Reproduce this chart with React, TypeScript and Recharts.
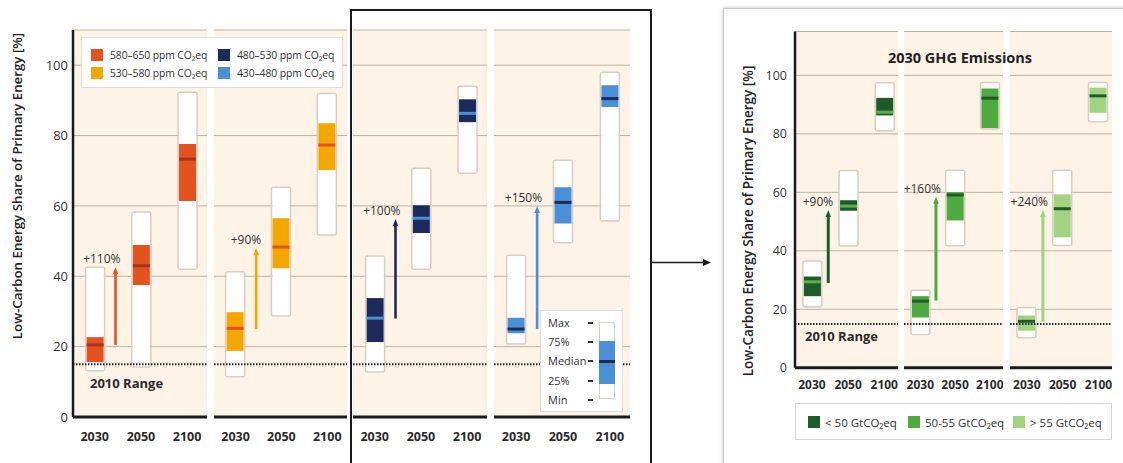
import React from 'react';
import { ComposedChart, Bar, XAxis, YAxis, CartesianGrid, ReferenceLine, ReferenceDot } from 'recharts';

// ---------------- data ----------------
const YEARS = ['2030', '2050', '2100'];
const YEAR_POS = [0.5, 1.5, 2.5];
const Y_TICKS = [0, 20, 40, 60, 80, 100];
const RANGE_2010 = 15;
const ARROW_POS = 0.95;

// Left figure: concentration categories (one row per panel, one value per year)
const CONC_NAMES = ['580–650 ppm CO₂eq', '530–580 ppm CO₂eq', '480–530 ppm CO₂eq', '430–480 ppm CO₂eq'];
const CONC_MIN = [[13.4, 14.5, 42.3], [11.7, 29, 52], [13.1, 42.3, 69.6], [21, 49.8, 56]];
const CONC_Q1 = [[15.6, 37.5, 61.4], [18.8, 42.3, 70.2], [21.3, 52.3, 83.8], [23.8, 55, 88.1]];
const CONC_MEDIAN = [[20.5, 43, 73.3], [25.2, 48.3, 77.3], [28.1, 56.5, 86.3], [25, 61, 90.5]];
const CONC_Q3 = [[22.7, 48.9, 77.6], [29.8, 56.5, 83.5], [33.8, 60.2, 90.3], [28.2, 65.3, 94.3]];
const CONC_MAX = [[42.3, 58, 92], [41, 65, 91.7], [45.5, 70.4, 93.7], [45.7, 72.7, 97.7]];
const CONC_ARROW_FROM = [20.5, 25, 28, 25];
const CONC_ARROW_TO = [42.6, 48, 56.3, 60];
const CONC_ARROW_LABEL = ['+110%', '+90%', '+100%', '+150%'];

// Right figure: 2030 GHG emission categories
const GHG_NAMES = ['< 50 GtCO₂eq', '50-55 GtCO₂eq', '> 55 GtCO₂eq'];
const GHG_MIN = [[21.2, 42, 81.4], [11.7, 42.1, 82], [10.6, 42.2, 84.5]];
const GHG_Q1 = [[24.5, 53.7, 86.3], [17.2, 50.4, 82], [12.7, 44.6, 87.2]];
const GHG_MEDIAN = [[29.4, 55.3, 87.4], [22.8, 59.1, 92.2], [15.9, 54.4, 93]];
const GHG_Q3 = [[31.2, 57.3, 92.3], [24.5, 60.1, 95.5], [17.9, 59.3, 95.8]];
const GHG_MAX = [[36.2, 67.1, 97.1], [26.2, 67.2, 97.2], [20.3, 67.2, 97.2]];
const GHG_ARROW_FROM = [29, 23, 15.7];
const GHG_ARROW_TO = [54, 58.5, 54];
const GHG_ARROW_LABEL = ['+90%', '+160%', '+240%'];

const Y_LABEL = 'Low-Carbon Energy Share of Primary Energy [%]';
const RANGE_LABEL = '2010 Range';
const RIGHT_TITLE = '2030 GHG Emissions';
const BOX_LEGEND = ['Max', '75%', 'Median', '25%', 'Min'];

// ---------------- styles ----------------
const FONT = "'Open Sans', 'Noto Sans', sans-serif";
const BEIGE = '#fdf3e6';
const GRID = '#bcb3a7';
const CONC_FILL = ['#e2531f', '#f4a700', '#1c2b5b', '#4b8fd6'];
const CONC_MED = ['#a8321a', '#e2531f', '#4b8fd6', '#1c2b5b'];
const GHG_FILL = ['#1f5b2a', '#4ea93f', '#a0d47f'];
const GHG_MED = ['#5cb04a', '#1f5b2a', '#1f5b2a'];

const LEFT_PANELS = [
  { left: 0, yAxisW: 73, plotW: 134 },
  { left: 214, yAxisW: 0, plotW: 133 },
  { left: 353, yAxisW: 0, plotW: 134 },
  { left: 494, yAxisW: 0, plotW: 136 },
];
const RIGHT_PANELS = [
  { left: 735, yAxisW: 60, plotW: 103 },
  { left: 904, yAxisW: 0, plotW: 99 },
  { left: 1010, yAxisW: 0, plotW: 102 },
];

type Geom = {
  top: number; plotH: number; axisH: number; yMax: number; xDomain: [number, number];
  xTickMargin: number; yTickMargin: number; yTickFont: number; xTickFont: number;
  labelX: number; labelCY: number; labelFont: number; barSize: number; arrowW: number;
  rangeDX: number; rangeDY: number;
};

const LEFT_GEOM: Geom = {
  top: 30, plotH: 387, axisH: 46, yMax: 110, xDomain: [0.03, 2.93],
  xTickMargin: 15, yTickMargin: 5, yTickFont: 13, xTickFont: 12.5,
  labelX: 17, labelCY: 186, labelFont: 13.3, barSize: 17, arrowW: 2.6, rangeDX: 17, rangeDY: 19,
};
const RIGHT_GEOM: Geom = {
  top: 31.5, plotH: 336.3, axisH: 40, yMax: 115, xDomain: [0.03, 2.88],
  xTickMargin: 13, yTickMargin: 8, yTickFont: 12.5, xTickFont: 12,
  labelX: 13, labelCY: 221, labelFont: 13.5, barSize: 17, arrowW: 3, rangeDX: 10, rangeDY: 12,
};

type Row = { pos: number; year: string; min: number; q1: number; median: number; q3: number; max: number };

function buildRows(mins: number[], q1: number[], med: number[], q3: number[], max: number[]): Row[] {
  return YEARS.map((year, i) => ({ pos: YEAR_POS[i], year, min: mins[i], q1: q1[i], median: med[i], q3: q3[i], max: max[i] }));
}

const makeBoxShape = (fill: string, medColor: string) => (props: any) => {
  const { x, y, width, height, payload } = props;
  if (x == null || y == null || !payload) return <g />;
  const top = Math.min(y, y + height);
  const h = Math.abs(height);
  const { min, q1, median, q3, max } = payload as Row;
  const k = h / (max - min);
  const py = (v: number) => top + (max - v) * k;
  return (
    <g>
      <rect x={x - 1} y={top - 1} width={width + 2} height={h + 2} rx={2} fill="none" stroke="#d6cfc4" strokeWidth={1.5} />
      <rect x={x} y={top} width={width} height={h} fill="#ffffff" />
      <rect x={x} y={py(q3)} width={width} height={py(q1) - py(q3)} fill={fill} />
      <rect x={x} y={py(median) - 1.5} width={width} height={3} fill={medColor} />
    </g>
  );
};

const makeArrowHead = (color: string, label: string) => (p: any) => {
  const { cx, cy } = p;
  if (cx == null || cy == null) return <g />;
  return (
    <g>
      <polygon points={`${cx},${cy} ${cx - 2.8},${cy + 7} ${cx + 2.8},${cy + 7}`} fill={color} />
      <text x={cx + 5} y={cy - 4} textAnchor="end" fontSize={12} fill="#333" fontFamily={FONT}>{label}</text>
    </g>
  );
};

type PanelProps = {
  layout: { left: number; yAxisW: number; plotW: number };
  geom: Geom; rows: Row[]; fill: string; medColor: string;
  arrowFrom: number; arrowTo: number; arrowLabel: string; showRange: boolean;
};

function Panel({ layout, geom, rows, fill, medColor, arrowFrom, arrowTo, arrowLabel, showRange }: PanelProps) {
  const showY = layout.yAxisW > 0;
  const width = layout.yAxisW + layout.plotW;
  const height = geom.top + geom.plotH + geom.axisH;
  const yLabelContent = (lp: any) => {
    const vb = lp.viewBox || { x: 0 };
    const cx = vb.x + geom.labelX;
    const cy = geom.labelCY;
    return (
      <text x={cx} y={cy} transform={`rotate(-90 ${cx} ${cy})`} textAnchor="middle" dominantBaseline="central"
        fontSize={geom.labelFont} fontWeight={600} fill="#222" fontFamily={FONT}>{Y_LABEL}</text>
    );
  };
  const rangeContent = (lp: any) => {
    const vb = lp.viewBox || { x: 0, y: 0 };
    return (
      <text x={vb.x + geom.rangeDX} y={vb.y + geom.rangeDY} dominantBaseline="central" fontSize={13} fontWeight={700}
        fill="#2a2a2a" fontFamily={FONT}>{RANGE_LABEL}</text>
    );
  };
  return (
    <div style={{ position: 'absolute', left: layout.left, top: 0 }}>
      <ComposedChart width={width} height={height} data={rows} margin={{ top: geom.top, right: 0, bottom: 0, left: 0 }}>
        <CartesianGrid vertical={false} fill={BEIGE} fillOpacity={1} stroke={GRID} strokeWidth={1} />
        <XAxis type="number" dataKey="pos" domain={geom.xDomain} ticks={YEAR_POS} allowDataOverflow
          tickFormatter={(v: number) => YEARS[Math.floor(v)]} height={geom.axisH}
          axisLine={{ stroke: '#1a1a1a', strokeWidth: 3 }} tickLine={false} tickSize={0} tickMargin={geom.xTickMargin}
          tick={{ fill: '#2a2a2a', fontSize: geom.xTickFont, fontWeight: 700, fontFamily: FONT }} />
        <YAxis type="number" domain={[0, geom.yMax]} ticks={Y_TICKS} allowDataOverflow hide={!showY}
          width={showY ? layout.yAxisW : 0}
          axisLine={{ stroke: '#1a1a1a', strokeWidth: 2.5 }} tickLine={false} tickSize={0} tickMargin={geom.yTickMargin}
          tick={{ fill: '#333', fontSize: geom.yTickFont, fontFamily: FONT }}
          label={showY ? { content: yLabelContent } : undefined} />
        <ReferenceLine y={RANGE_2010} stroke="#222" strokeWidth={2} strokeDasharray="1.5 1.5"
          label={showRange ? { content: rangeContent } : undefined} />
        <Bar dataKey={(d: Row) => [d.min, d.max]} barSize={geom.barSize} shape={makeBoxShape(fill, medColor)} isAnimationActive={false} />
        <ReferenceLine segment={[{ x: ARROW_POS, y: arrowFrom }, { x: ARROW_POS, y: arrowTo - 1.5 }]} stroke={fill} strokeWidth={geom.arrowW} />
        <ReferenceDot x={ARROW_POS} y={arrowTo} shape={makeArrowHead(fill, arrowLabel)} />
      </ComposedChart>
    </div>
  );
}

function ConcLegend() {
  return (
    <div style={{ position: 'absolute', left: 81, top: 37, width: 262, height: 51, background: '#fff', border: '1px solid #e2ddd5', boxSizing: 'border-box', fontFamily: FONT }}>
      {CONC_NAMES.map((name, i) => {
        const col = Math.floor(i / 2);
        const row = i % 2;
        return (
          <div key={name} style={{ position: 'absolute', left: 9 + col * 127, top: 9 + row * 18, height: 16, display: 'flex', alignItems: 'center' }}>
            <span style={{ width: 12, height: 12, background: CONC_FILL[i], display: 'inline-block', marginRight: 7 }} />
            <span style={{ fontSize: 10.4, letterSpacing: -0.1, color: '#333', whiteSpace: 'nowrap' }}>{name}</span>
          </div>
        );
      })}
    </div>
  );
}

function BoxLegend() {
  const centers = [12, 31, 50, 70, 89];
  return (
    <div style={{ position: 'absolute', left: 540, top: 310, width: 83, height: 102, background: '#fff', border: '1px solid #e2ddd5', boxSizing: 'border-box', fontFamily: FONT }}>
      {BOX_LEGEND.map((l, i) => (
        <React.Fragment key={l}>
          <div style={{ position: 'absolute', left: 7, top: centers[i] - 8, height: 16, lineHeight: '16px', fontSize: 11, color: '#333' }}>{l}</div>
          <div style={{ position: 'absolute', left: 47, top: centers[i] - 1, width: 5, height: 1.5, background: '#333' }} />
        </React.Fragment>
      ))}
      <div style={{ position: 'absolute', left: 58, top: 11, width: 16, height: 77, background: '#fff', border: '1px solid #d6cfc4', boxSizing: 'border-box' }} />
      <div style={{ position: 'absolute', left: 58, top: 30, width: 16, height: 43, background: CONC_FILL[3] }} />
      <div style={{ position: 'absolute', left: 58, top: 49, width: 16, height: 3, background: CONC_MED[3] }} />
    </div>
  );
}

function GhgLegend() {
  const lefts = [12, 112, 217];
  return (
    <div style={{ position: 'absolute', left: 795, top: 403, width: 317, height: 37, background: '#fff', border: '1px solid #d4d4d4', boxSizing: 'border-box', fontFamily: FONT }}>
      {GHG_NAMES.map((name, i) => (
        <div key={name} style={{ position: 'absolute', left: lefts[i], top: 10, height: 16, display: 'flex', alignItems: 'center' }}>
          <span style={{ width: 12, height: 12, background: GHG_FILL[i], display: 'inline-block', marginRight: 5 }} />
          <span style={{ fontSize: 11.5, color: '#333', whiteSpace: 'nowrap' }}>{name}</span>
        </div>
      ))}
    </div>
  );
}

export default function App() {
  return (
    <div style={{ position: 'absolute', left: 0, top: 0, width: 1123, height: 463, background: '#fff', overflow: 'hidden', fontFamily: FONT }}>
      {/* right figure frame */}
      <div style={{ position: 'absolute', left: 723, top: 8, width: 430, height: 480, border: '1px solid #c9c9c9', boxShadow: '0 0 4px rgba(0,0,0,0.25)', background: '#fff' }} />

      {LEFT_PANELS.map((layout, i) => (
        <Panel key={'c' + i} layout={layout} geom={LEFT_GEOM}
          rows={buildRows(CONC_MIN[i], CONC_Q1[i], CONC_MEDIAN[i], CONC_Q3[i], CONC_MAX[i])}
          fill={CONC_FILL[i]} medColor={CONC_MED[i]}
          arrowFrom={CONC_ARROW_FROM[i]} arrowTo={CONC_ARROW_TO[i]} arrowLabel={CONC_ARROW_LABEL[i]}
          showRange={i === 0} />
      ))}
      {RIGHT_PANELS.map((layout, i) => (
        <Panel key={'g' + i} layout={layout} geom={RIGHT_GEOM}
          rows={buildRows(GHG_MIN[i], GHG_Q1[i], GHG_MEDIAN[i], GHG_Q3[i], GHG_MAX[i])}
          fill={GHG_FILL[i]} medColor={GHG_MED[i]}
          arrowFrom={GHG_ARROW_FROM[i]} arrowTo={GHG_ARROW_TO[i]} arrowLabel={GHG_ARROW_LABEL[i]}
          showRange={i === 0} />
      ))}

      <ConcLegend />
      <BoxLegend />
      <GhgLegend />

      <div style={{ position: 'absolute', left: 860, width: 200, top: 48, textAlign: 'center', fontSize: 14.5, fontWeight: 700, color: '#222' }}>{RIGHT_TITLE}</div>

      {/* highlight frame and connector arrow */}
      <div style={{ position: 'absolute', left: 350, top: 9, width: 302, height: 470, border: '2px solid #1a1a1a', boxSizing: 'border-box' }} />
      <svg width={1123} height={463} style={{ position: 'absolute', left: 0, top: 0, pointerEvents: 'none' }}>
        <line x1={652} y1={262.5} x2={704} y2={262.5} stroke="#1a1a1a" strokeWidth={1.5} />
        <polygon points="711,262.5 703,259 703,266" fill="#1a1a1a" />
      </svg>
    </div>
  );
}
